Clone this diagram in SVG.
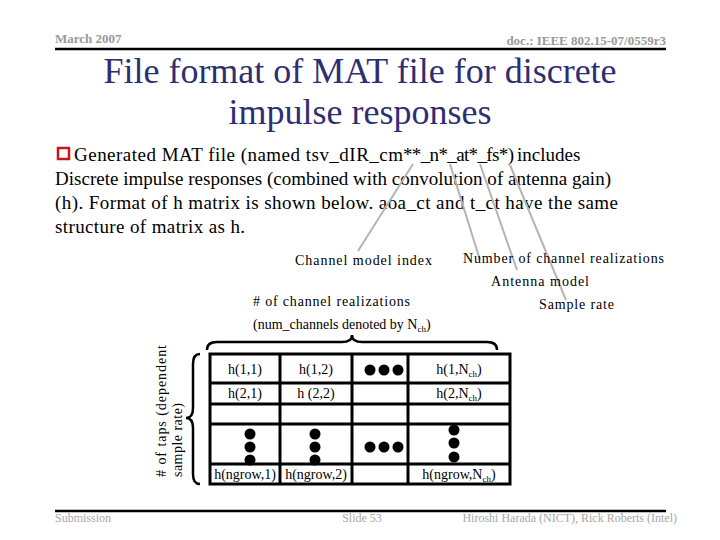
<svg xmlns="http://www.w3.org/2000/svg" width="720" height="540" viewBox="0 0 720 540">
<style>
text{font-family:"Liberation Serif","Times New Roman",serif;}
.hdr{font-size:13px;font-weight:bold;fill:#999;}
.ftr{font-size:12px;fill:#a8a8a8;}
.title{font-size:36px;fill:#2e2e72;text-anchor:middle;}
.body{font-size:19px;fill:#000;}
.lbl{font-size:14px;fill:#000;}
.cell{font-size:14px;fill:#000;text-anchor:middle;}
.sub{font-size:9px;}
.conn{stroke:#b4b4b4;stroke-width:2;fill:none;}
.grid{stroke:#000;stroke-width:3;fill:none;}
.brace{stroke:#000;stroke-width:2.5;fill:none;}
.dot{fill:#000;}
</style>
<rect width="720" height="540" fill="#fff"/>

<g id="header">
<text class="hdr" x="55" y="43">March 2007</text>
<text class="hdr" x="666" y="45" text-anchor="end">doc.: IEEE 802.15-07/0559r3</text>
<line x1="55" y1="49" x2="666" y2="49" stroke="#000" stroke-width="2.5"/>
</g>

<g id="title">
<text class="title" x="360" y="83">File format of MAT file for discrete</text>
<text class="title" x="360" y="124">impulse responses</text>
</g>

<g id="body">
<rect x="58" y="148" width="11" height="11" fill="#fff" stroke="#c8161d" stroke-width="2.5"/>
<text class="body" x="74" y="161" textLength="329" lengthAdjust="spacing">Generated MAT file (named tsv_dIR_cm</text>
<text class="body" x="403" y="161" font-size="18" textLength="111" lengthAdjust="spacing">**_n*_at*_fs*)</text>
<text class="body" x="517" y="161" font-size="18">includes</text>
<text class="body" x="55" y="185" textLength="556" lengthAdjust="spacing">Discrete impulse responses (combined with convolution of antenna gain)</text>
<text class="body" x="55" y="209" textLength="563" lengthAdjust="spacing">(h). Format of h matrix is shown below. aoa_ct and t_ct have the same</text>
<text class="body" x="55" y="233" textLength="190" lengthAdjust="spacing">structure of matrix as h.</text>
</g>

<g id="connectors">
<line class="conn" x1="413" y1="164" x2="358" y2="251"/>
<line class="conn" x1="450" y1="164" x2="480" y2="260"/>
<line class="conn" x1="480" y1="164" x2="517" y2="270"/>
<line class="conn" x1="510" y1="165" x2="566" y2="300"/>
</g>

<g id="label-channel-model-index"><text class="lbl" x="295" y="265" textLength="137" lengthAdjust="spacing">Channel model index</text></g>
<g id="label-num-realizations"><text class="lbl" x="463" y="263" textLength="201" lengthAdjust="spacing">Number of channel realizations</text></g>
<g id="label-antenna-model"><text class="lbl" x="491" y="286" textLength="98" lengthAdjust="spacing">Antenna model</text></g>
<g id="label-sample-rate"><text class="lbl" x="539" y="309" textLength="75" lengthAdjust="spacing">Sample rate</text></g>
<g id="label-channels">
<text class="lbl" x="253" y="306" textLength="157" lengthAdjust="spacing"># of channel realizations</text>
<text class="lbl" x="253" y="329">(num_channels denoted by N<tspan class="sub" dy="3">ch</tspan><tspan dy="-3">)</tspan></text>
</g>

<g id="label-taps">
<text class="lbl" font-size="13" transform="translate(166,477) rotate(-90)" textLength="132" lengthAdjust="spacing"># of taps (dependent</text>
<text class="lbl" font-size="13" transform="translate(182,477) rotate(-90)" textLength="74" lengthAdjust="spacing">sample rate)</text>
</g>

<g id="braces">
<path class="brace" d="M207,350 Q207,342 217,342 L342,342 Q352,342 352,335 Q352,342 362,342 L487,342 Q497,342 497,350"/>
<path class="brace" d="M200,354 Q193,354 193,364 L193,408 Q193,418 186,418 Q193,418 193,428 L193,474 Q193,484 200,484"/>
</g>

<g id="matrix">
<rect class="grid" x="210" y="354" width="300" height="130"/>
<line class="grid" x1="210" y1="383" x2="510" y2="383"/>
<line class="grid" x1="210" y1="404" x2="510" y2="404"/>
<line class="grid" x1="210" y1="424" x2="510" y2="424"/>
<line class="grid" x1="280" y1="354" x2="280" y2="484"/>
<line class="grid" x1="352" y1="354" x2="352" y2="484"/>
<line class="grid" x1="408" y1="354" x2="408" y2="484"/>

<text class="cell" x="245" y="374">h(1,1)</text>
<text class="cell" x="316" y="374">h(1,2)</text>
<text class="cell" x="459" y="374">h(1,N<tspan class="sub" dy="3">ch</tspan><tspan dy="-3">)</tspan></text>
<text class="cell" x="245" y="398">h(2,1)</text>
<text class="cell" x="316" y="398">h (2,2)</text>
<text class="cell" x="459" y="398">h(2,N<tspan class="sub" dy="3">ch</tspan><tspan dy="-3">)</tspan></text>
<text class="cell" x="245" y="479">h(ngrow,1)</text>
<text class="cell" x="316" y="479">h(ngrow,2)</text>
<text class="cell" x="459" y="479">h(ngrow,N<tspan class="sub" dy="3">ch</tspan><tspan dy="-3">)</tspan></text>

<circle class="dot" cx="370" cy="370" r="5.5"/>
<circle class="dot" cx="384" cy="370" r="5.5"/>
<circle class="dot" cx="398" cy="370" r="5.5"/>
<circle class="dot" cx="370" cy="447" r="5.5"/>
<circle class="dot" cx="384" cy="447" r="5.5"/>
<circle class="dot" cx="398" cy="447" r="5.5"/>
<circle class="dot" cx="250" cy="434" r="5.5"/>
<circle class="dot" cx="250" cy="447" r="5.5"/>
<circle class="dot" cx="250" cy="460" r="5.5"/>
<circle class="dot" cx="315" cy="434" r="5.5"/>
<circle class="dot" cx="315" cy="447" r="5.5"/>
<circle class="dot" cx="315" cy="460" r="5.5"/>
<circle class="dot" cx="454" cy="430" r="5.5"/>
<circle class="dot" cx="454" cy="443" r="5.5"/>
<circle class="dot" cx="454" cy="457" r="5.5"/>
<line class="grid" x1="210" y1="464" x2="510" y2="464"/>
</g>

<g id="footer">
<line x1="55" y1="511" x2="666" y2="511" stroke="#000" stroke-width="2.5"/>
<text class="ftr" x="55" y="522">Submission</text>
<text class="ftr" x="362" y="522" text-anchor="middle">Slide 53</text>
<text class="ftr" x="677" y="522" text-anchor="end">Hiroshi Harada (NICT), Rick Roberts (Intel)</text>
</g>
</svg>
